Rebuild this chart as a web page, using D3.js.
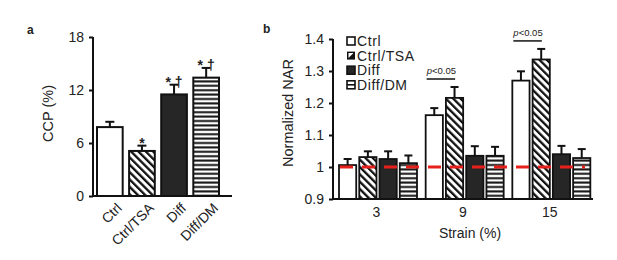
<!DOCTYPE html>
<html>
<head>
<meta charset="utf-8">
<script src="https://cdn.jsdelivr.net/npm/d3@7"></script>
<style>
  body { margin: 0; background: #fff; }
  text { font-family: "Liberation Sans", Arial, sans-serif; fill: #222; }
</style>
</head>
<body>
<svg id="chart" width="617" height="260"></svg>
<script>
// ---- panel a data
const ccpCats = ["Ctrl", "Ctrl/TSA", "Diff", "Diff/DM"];
const ccpMean = [7.8, 5.1, 11.5, 13.4];
const ccpErr = [0.6, 0.6, 1.1, 1.1];
const ccpMarks = ["", "*", "* \u2020", "* \u2020"];
const ccpTicks = [0, 6, 12, 18];

// ---- panel b data
const strainCats = ["3", "9", "15"];
const narSeries = ["Ctrl", "Ctrl/TSA", "Diff", "Diff/DM"];
const narMean = {
  "Ctrl":     [1.006, 1.162, 1.270],
  "Ctrl/TSA": [1.031, 1.216, 1.336],
  "Diff":     [1.025, 1.035, 1.040],
  "Diff/DM":  [1.012, 1.035, 1.028]
};
const narErr = {
  "Ctrl":     [0.019, 0.022, 0.029],
  "Ctrl/TSA": [0.018, 0.034, 0.033],
  "Diff":     [0.024, 0.030, 0.026],
  "Diff/DM":  [0.024, 0.028, 0.028]
};
const narTicks = [0.9, 1.0, 1.1, 1.2, 1.3, 1.4];
const narTickLabels = ["0.9", "1", "1.1", "1.2", "1.3", "1.4"];
const sigGroups = ["9", "15"];
const sigText = "<0.05";
const refValue = 1.0;

const svg = d3.select("#chart");
svg.append("rect").attr("width", 617).attr("height", 260).attr("fill", "#fff");

// patterns
const defs = svg.append("defs");
const diag = defs.append("pattern")
  .attr("id", "diag")
  .attr("patternUnits", "userSpaceOnUse")
  .attr("width", 5.2).attr("height", 10)
  .attr("patternTransform", "rotate(-45)");
diag.append("rect").attr("width", 5.2).attr("height", 10).attr("fill", "#fff");
diag.append("rect").attr("width", 2.3).attr("height", 10).attr("fill", "#111");

const horiz = defs.append("pattern")
  .attr("id", "horiz")
  .attr("patternUnits", "userSpaceOnUse")
  .attr("width", 10).attr("height", 4.4);
horiz.append("rect").attr("width", 10).attr("height", 4.4).attr("fill", "#fff");
horiz.append("rect").attr("y", 1.2).attr("width", 10).attr("height", 2).attr("fill", "#111");

const fills = {
  "Ctrl": "#fff",
  "Ctrl/TSA": "url(#diag)",
  "Diff": "#262626",
  "Diff/DM": "url(#horiz)"
};

// ================= panel a =================
const ya = d3.scaleLinear().domain([0, 18]).range([196, 37]);
const xa = d3.scaleBand().domain(ccpCats).range([97, 219]).paddingInner(0.2);
const ga = svg.append("g");

ga.append("text").attr("x", 27).attr("y", 34)
  .attr("font-size", 12).attr("font-weight", "bold").text("a");

const yAxisA = ga.append("g").attr("transform", "translate(93,0)")
  .call(d3.axisLeft(ya).tickValues(ccpTicks).tickSize(4).tickPadding(5).tickFormat(d3.format("d")));
yAxisA.select(".domain").attr("stroke", "#111").attr("stroke-width", 2)
  .attr("d", `M0,${ya(18)}V${ya(0)}`);
yAxisA.selectAll(".tick line").attr("stroke", "#111").attr("stroke-width", 2);
yAxisA.selectAll(".tick text").attr("font-size", 14).attr("font-family", "Liberation Sans, Arial, sans-serif").attr("fill", "#222");

ga.append("text")
  .attr("transform", `translate(53,${(ya(0) + ya(18)) / 2 - 3}) rotate(-90)`)
  .attr("text-anchor", "middle").attr("font-size", 14.5).text("CCP (%)");

ccpCats.forEach((c, i) => {
  const x = xa(c), w = xa.bandwidth(), cx = x + w / 2;
  const top = ya(ccpMean[i]), eTop = ya(ccpMean[i] + ccpErr[i]);
  ga.append("line").attr("x1", cx).attr("x2", cx).attr("y1", top).attr("y2", eTop)
    .attr("stroke", "#111").attr("stroke-width", 2);
  ga.append("line").attr("x1", cx - 4.5).attr("x2", cx + 4.5).attr("y1", eTop).attr("y2", eTop)
    .attr("stroke", "#111").attr("stroke-width", 2);
  ga.append("rect").attr("x", x).attr("y", top).attr("width", w).attr("height", ya(0) - top)
    .attr("fill", fills[c]).attr("stroke", "#111").attr("stroke-width", 2);
  if (ccpMarks[i]) {
    ga.append("text").attr("x", cx).attr("y", eTop + 2)
      .attr("text-anchor", "middle").attr("font-size", 14).attr("font-weight", "bold")
      .text(ccpMarks[i]);
  }
  ga.append("text")
    .attr("transform", `translate(${cx + 6},${ya(0) + 6}) rotate(-45)`)
    .attr("text-anchor", "end").attr("dy", "0.7em").attr("font-size", 14).text(c);
});

ga.append("line").attr("x1", 92).attr("x2", 232).attr("y1", ya(0)).attr("y2", ya(0))
  .attr("stroke", "#111").attr("stroke-width", 2);

// ================= panel b =================
const yb = d3.scaleLinear().domain([0.9, 1.4]).range([199, 39]);
const xb = d3.scaleBand().domain(strainCats).range([334, 594]);
const xs = d3.scaleBand().domain(narSeries).range([5, 83]).paddingInner(0.15);
const gb = svg.append("g");

gb.append("text").attr("x", 263).attr("y", 33)
  .attr("font-size", 12).attr("font-weight", "bold").text("b");

const yAxisB = gb.append("g").attr("transform", "translate(333,0)")
  .call(d3.axisLeft(yb).tickValues(narTicks).tickSize(4).tickPadding(5)
    .tickFormat((d, i) => narTickLabels[i]));
yAxisB.select(".domain").attr("stroke", "#111").attr("stroke-width", 2)
  .attr("d", `M0,${yb(1.4)}V${yb(0.9)}`);
yAxisB.selectAll(".tick line").attr("stroke", "#111").attr("stroke-width", 2);
yAxisB.selectAll(".tick text").attr("font-size", 14).attr("font-family", "Liberation Sans, Arial, sans-serif").attr("fill", "#222");

gb.append("text")
  .attr("transform", `translate(293,${(yb(0.9) + yb(1.4)) / 2 - 6}) rotate(-90)`)
  .attr("text-anchor", "middle").attr("font-size", 14.5).text("Normalized NAR");

strainCats.forEach((s, gi) => {
  const gx = xb(s);
  narSeries.forEach(k => {
    const x = gx + xs(k), w = xs.bandwidth(), cx = x + w / 2;
    const top = yb(narMean[k][gi]), eTop = yb(narMean[k][gi] + narErr[k][gi]);
    gb.append("line").attr("x1", cx).attr("x2", cx).attr("y1", top).attr("y2", eTop)
      .attr("stroke", "#111").attr("stroke-width", 2);
    gb.append("line").attr("x1", cx - 4).attr("x2", cx + 4).attr("y1", eTop).attr("y2", eTop)
      .attr("stroke", "#111").attr("stroke-width", 2);
    gb.append("rect").attr("x", x).attr("y", top).attr("width", w).attr("height", yb(0.9) - top)
      .attr("fill", fills[k]).attr("stroke", "#111").attr("stroke-width", 1.8);
  });
  gb.append("text").attr("x", gx + xb.bandwidth() / 2 - 1).attr("y", 217)
    .attr("text-anchor", "middle").attr("font-size", 14).text(s);
});

// significance brackets
sigGroups.forEach(s => {
  const gi = strainCats.indexOf(s);
  const gx = xb(s);
  const x1 = gx + xs("Ctrl") + 1, x2 = gx + xs("Ctrl/TSA") + xs.bandwidth() - 8;
  const yTop = d3.min(["Ctrl", "Ctrl/TSA"], k => yb(narMean[k][gi] + narErr[k][gi])) - 8;
  gb.append("line").attr("x1", x1).attr("x2", x2).attr("y1", yTop).attr("y2", yTop)
    .attr("stroke", "#111").attr("stroke-width", 1.5);
  const t = gb.append("text").attr("x", x1).attr("y", yTop - 5).attr("font-size", 9.5);
  t.append("tspan").attr("font-style", "italic").text("p");
  t.append("tspan").text(sigText);
});

// x axis line
gb.append("line").attr("x1", 332).attr("x2", 593).attr("y1", yb(0.9)).attr("y2", yb(0.9))
  .attr("stroke", "#111").attr("stroke-width", 2);

// reference line
gb.append("line")
  .attr("x1", xb.range()[0] + 6).attr("x2", xb.range()[1] - 9)
  .attr("y1", yb(refValue)).attr("y2", yb(refValue))
  .attr("stroke", "#e8201c").attr("stroke-width", 3.2).attr("stroke-dasharray", "13,9");

gb.append("text").attr("x", (xb.range()[0] + xb.range()[1]) / 2 + 6).attr("y", 238)
  .attr("text-anchor", "middle").attr("font-size", 14).text("Strain (%)");

// legend
const lg = gb.append("g").attr("transform", "translate(347,37)");
narSeries.forEach((k, i) => {
  const row = lg.append("g").attr("transform", `translate(0,${i * 14.6})`);
  if (k === "Ctrl/TSA") {
    row.append("rect").attr("width", 8).attr("height", 8).attr("fill", "#111");
    row.append("path").attr("d", "M1.5,1.5H6.5L1.5,6.5Z").attr("fill", "#fff");
  } else if (k === "Diff/DM") {
    row.append("rect").attr("width", 8).attr("height", 8).attr("fill", "#fff")
      .attr("stroke", "#111").attr("stroke-width", 1.6);
    row.append("line").attr("x1", 0).attr("x2", 8).attr("y1", 4).attr("y2", 4)
      .attr("stroke", "#111").attr("stroke-width", 1.6);
  } else {
    row.append("rect").attr("width", 8).attr("height", 8)
      .attr("fill", k === "Diff" ? "#262626" : "#fff")
      .attr("stroke", "#111").attr("stroke-width", 1.6);
  }
  row.append("text").attr("x", 10).attr("y", 9).attr("font-size", 14)
    .attr("letter-spacing", 0.6).text(k);
});
</script>
</body>
</html>
